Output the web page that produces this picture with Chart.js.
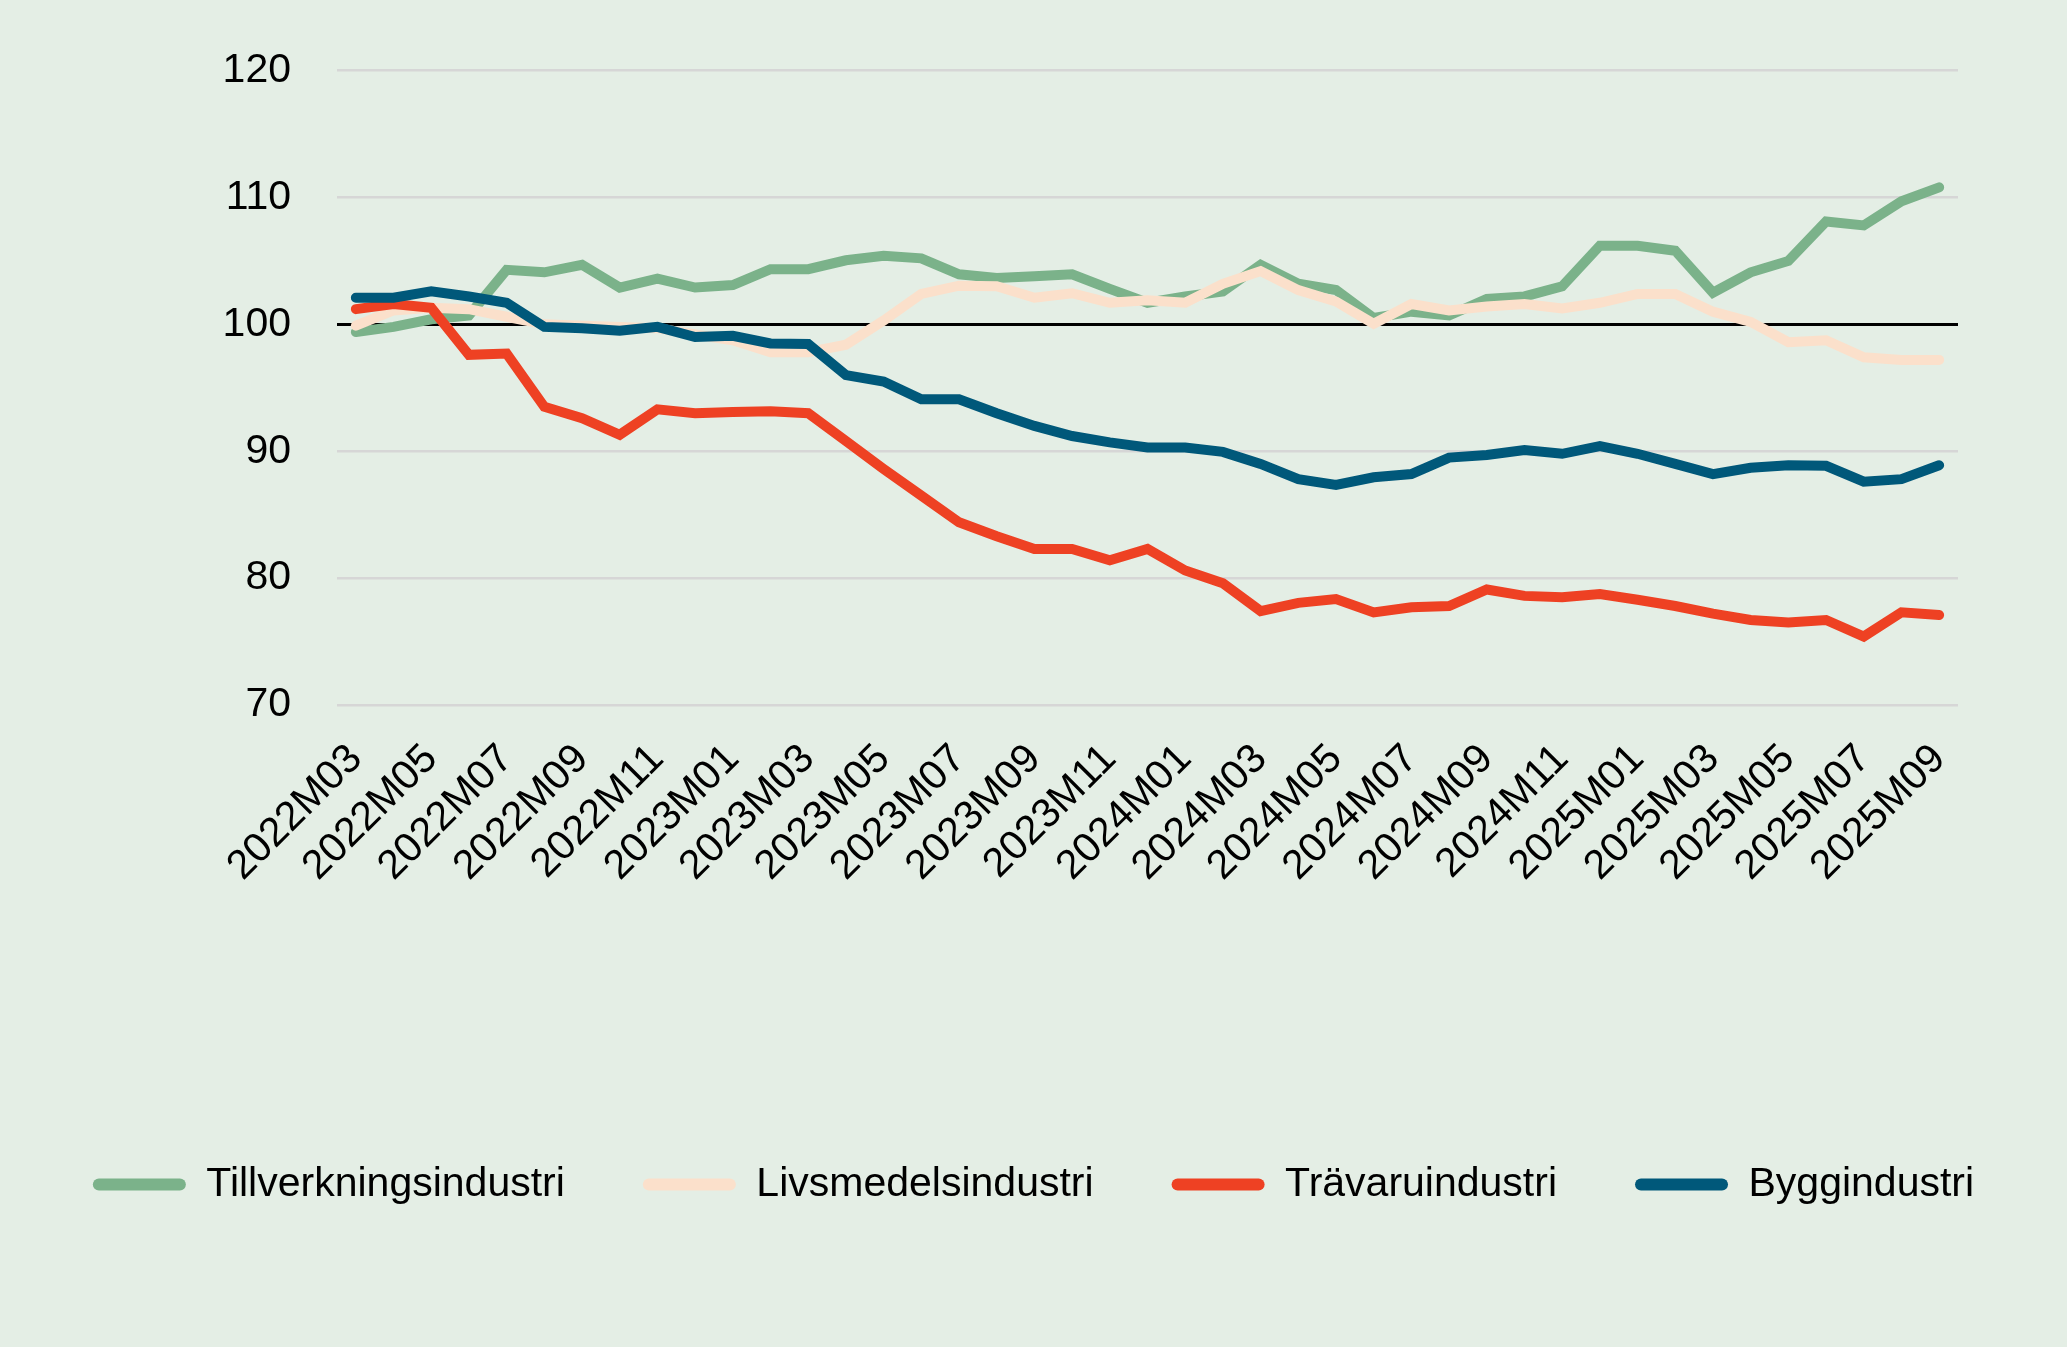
<!DOCTYPE html>
<html>
<head>
<meta charset="utf-8">
<script src="https://cdn.jsdelivr.net/npm/chart.js@4"></script>
<style>
  html, body { margin: 0; padding: 0; background: #E4EEE5; }
  #wrap { width: 2067px; height: 1347px; position: relative; }
</style>
</head>
<body>
<div id="wrap"><canvas id="chart"></canvas></div>
<script>
const months = [
  '2022M03','2022M04','2022M05','2022M06','2022M07','2022M08','2022M09','2022M10','2022M11','2022M12',
  '2023M01','2023M02','2023M03','2023M04','2023M05','2023M06','2023M07','2023M08','2023M09','2023M10','2023M11','2023M12',
  '2024M01','2024M02','2024M03','2024M04','2024M05','2024M06','2024M07','2024M08','2024M09','2024M10','2024M11','2024M12',
  '2025M01','2025M02','2025M03','2025M04','2025M05','2025M06','2025M07','2025M08','2025M09'
];

const tillverkning = [99.4, 99.8, 100.4, 100.7, 104.3, 104.1, 104.7, 102.9, 103.6, 102.9,
  103.1, 104.35, 104.35, 105.05, 105.4, 105.2, 103.95, 103.65, 103.8, 103.95,
  102.8, 101.7, 102.2, 102.6, 104.7, 103.2, 102.7, 100.5, 101.0, 100.7,
  102.0, 102.2, 103.0, 106.2, 106.2, 105.8, 102.5, 104.1, 105.0, 108.1,
  107.8, 109.7, 110.8];

const livsmedel = [99.9, 101.1, 101.3, 101.2, 100.6, 100.0, 99.9, 99.8, 99.7, 99.2,
  98.75, 97.8, 97.8, 98.4, 100.3, 102.4, 103.05, 103.0, 102.1, 102.45,
  101.7, 101.9, 101.7, 103.2, 104.2, 102.7, 101.8, 100.05, 101.6, 101.1,
  101.4, 101.6, 101.25, 101.7, 102.4, 102.4, 101.0, 100.2, 98.6, 98.75,
  97.4, 97.2, 97.2];

const travaru = [101.2, 101.6, 101.3, 97.6, 97.7, 93.5, 92.6, 91.3, 93.3, 93.0,
  93.1, 93.15, 93.0, 90.8, 88.6, 86.5, 84.4, 83.3, 82.3, 82.3,
  81.4, 82.3, 80.6, 79.6, 77.4, 78.05, 78.35, 77.3, 77.7, 77.8,
  79.1, 78.6, 78.5, 78.75, 78.3, 77.8, 77.2, 76.7, 76.5, 76.7,
  75.4, 77.3, 77.1];

const bygg = [102.1, 102.1, 102.6, 102.2, 101.7, 99.8, 99.7, 99.5, 99.8, 99.0,
  99.1, 98.5, 98.45, 96.0, 95.5, 94.1, 94.1, 93.0, 92.0, 91.2,
  90.7, 90.3, 90.3, 89.95, 89.0, 87.8, 87.35, 87.95, 88.2, 89.5,
  89.7, 90.1, 89.8, 90.4, 89.8, 89.0, 88.2, 88.7, 88.9, 88.85,
  87.6, 87.8, 88.9];

const yTicks = [70, 80, 90, 100, 110, 120];

const FONT = "'Liberation Sans', Arial, sans-serif";

function line(label, data, color, order) {
  return {
    label: label,
    data: data,
    borderColor: color,
    backgroundColor: color,
    borderWidth: 10,
    pointRadius: 0,
    tension: 0,
    fill: false,
    borderCapStyle: 'round',
    order: order
  };
}

new Chart(document.getElementById('chart'), {
  type: 'line',
  data: {
    labels: months,
    datasets: [
      line('Tillverkningsindustri', tillverkning, '#7BB28A', 4),
      line('Livsmedelsindustri', livsmedel, '#FBE0CB', 3),
      line('Trävaruindustri', travaru, '#EE4123', 2),
      line('Byggindustri', bygg, '#00587A', 1)
    ]
  },
  options: {
    responsive: true,
    maintainAspectRatio: false,
    devicePixelRatio: 1,
    animation: false,
    layout: { padding: { top: 67, bottom: 132, left: 0, right: 0 } },
    plugins: {
      tooltip: { enabled: false },
      legend: {
        position: 'bottom',
        labels: {
          boxWidth: 93,
          boxHeight: 12,
          padding: 78,
          color: '#000',
          font: { family: FONT, size: 41 },
          useBorderRadius: true,
          borderRadius: 6,
          generateLabels(chart) {
            const items = Chart.defaults.plugins.legend.labels.generateLabels(chart);
            items.sort((a, b) => a.datasetIndex - b.datasetIndex);
            items.forEach(it => { it.fillStyle = it.strokeStyle; it.lineWidth = 0; });
            return items;
          }
        }
      }
    },
    scales: {
      x: {
        offset: true,
        grid: { display: false, drawTicks: false },
        border: { display: false },
        ticks: {
          autoSkip: false,
          minRotation: 45,
          maxRotation: 45,
          padding: 30,
          color: '#000',
          font: { family: FONT, size: 41 },
          callback(value, index) {
            return index % 2 === 0 ? months[index] : '';
          }
        },
        afterFit(scale) { scale.height = 381; }
      },
      y: {
        min: yTicks[0],
        max: yTicks[yTicks.length - 1],
        afterBuildTicks(scale) { scale.ticks = yTicks.map(v => ({ value: v })); },
        grid: {
          drawTicks: false,
          color: ctx => ctx.tick && ctx.tick.value === 100 ? '#000000' : '#D6D6D6',
          lineWidth: ctx => ctx.tick && ctx.tick.value === 100 ? 3 : 2.5
        },
        border: { display: false },
        ticks: {
          padding: 46,
          color: '#000',
          font: { family: FONT, size: 41 }
        },
        afterFit(scale) { scale.width = 337; }
      },
      y2: {
        position: 'right',
        grid: { display: false, drawTicks: false },
        border: { display: false },
        ticks: { display: false },
        afterFit(scale) { scale.width = 109; }
      }
    }
  }
});
</script>
</body>
</html>
